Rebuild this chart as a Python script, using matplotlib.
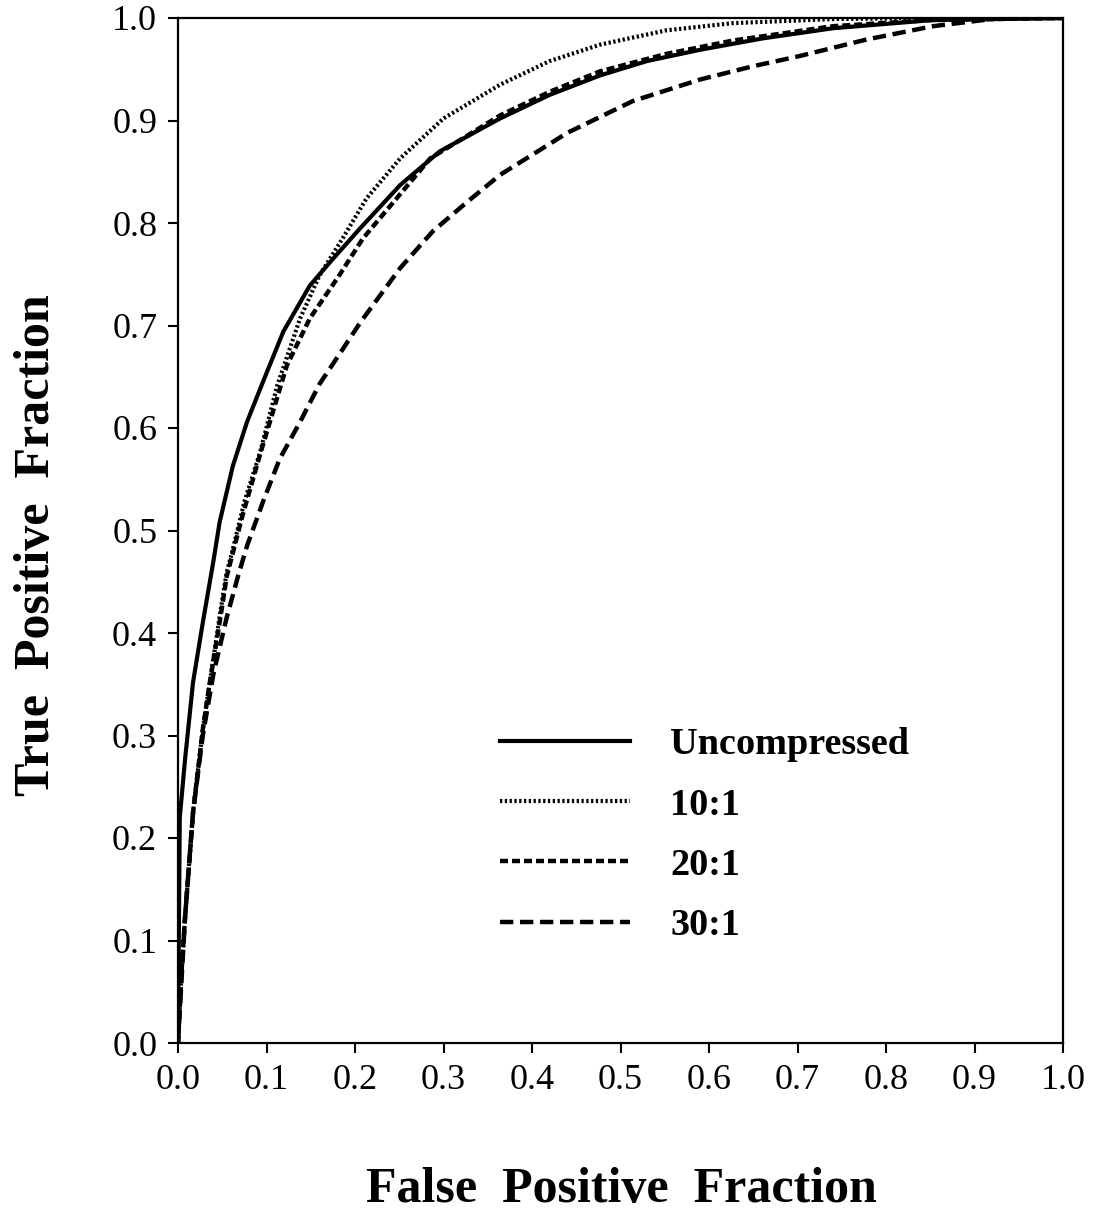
import matplotlib
matplotlib.use("Agg")
import matplotlib.pyplot as plt

# ---- data ----
unc_x = [0.0, 0.002, 0.008, 0.017, 0.028, 0.040, 0.047, 0.062, 0.078, 0.096, 0.119, 0.149, 0.172,
         0.206, 0.251, 0.296, 0.364, 0.420, 0.477, 0.530, 0.590, 0.660, 0.740, 0.853, 1.0]
unc_y = [0.0, 0.220, 0.277, 0.352, 0.410, 0.470, 0.508, 0.563, 0.606, 0.645, 0.694, 0.739, 0.762,
         0.795, 0.837, 0.870, 0.902, 0.925, 0.944, 0.958, 0.969, 0.980, 0.990, 0.998, 1.0]

r10_x = [0.0, 0.004, 0.008, 0.017, 0.028, 0.036, 0.047, 0.055, 0.062, 0.075, 0.093, 0.112, 0.138,
         0.160, 0.186, 0.213, 0.251, 0.300, 0.364, 0.420, 0.477, 0.552, 0.627, 0.740, 0.850, 1.0]
r10_y = [0.0, 0.070, 0.123, 0.225, 0.306, 0.352, 0.416, 0.459, 0.482, 0.528, 0.577, 0.641, 0.707,
         0.749, 0.785, 0.824, 0.863, 0.902, 0.935, 0.958, 0.974, 0.988, 0.995, 0.999, 1.0, 1.0]

r20_x = [0.0, 0.004, 0.008, 0.017, 0.028, 0.036, 0.047, 0.055, 0.073, 0.093, 0.123, 0.149,
         0.180, 0.209, 0.247, 0.285, 0.364, 0.420, 0.477, 0.552, 0.627, 0.740, 0.850, 1.0]
r20_y = [0.0, 0.070, 0.123, 0.225, 0.306, 0.352, 0.410, 0.455, 0.515, 0.575, 0.661, 0.707,
         0.746, 0.785, 0.824, 0.863, 0.905, 0.928, 0.948, 0.965, 0.978, 0.992, 0.998, 1.0]

r30_x = [0.0, 0.008, 0.017, 0.028, 0.040, 0.055, 0.068, 0.078, 0.096, 0.115, 0.138, 0.160, 0.187,
         0.206, 0.251, 0.288, 0.326, 0.364, 0.440, 0.514, 0.590, 0.650, 0.703, 0.778, 0.853, 0.929, 1.0]
r30_y = [0.0, 0.123, 0.225, 0.300, 0.360, 0.415, 0.456, 0.485, 0.528, 0.570, 0.606, 0.643, 0.678,
         0.703, 0.756, 0.792, 0.820, 0.847, 0.888, 0.919, 0.940, 0.953, 0.963, 0.979, 0.992, 1.0, 1.0]

labels = ["Uncompressed", "10:1", "20:1", "30:1"]
ticks = [0.0, 0.1, 0.2, 0.3, 0.4, 0.5, 0.6, 0.7, 0.8, 0.9, 1.0]
tick_labels = ["0.0", "0.1", "0.2", "0.3", "0.4", "0.5", "0.6", "0.7", "0.8", "0.9", "1.0"]

plt.rcParams['font.family'] = ['Liberation Serif', 'DejaVu Serif']

fig = plt.figure(figsize=(10.93, 12.13), dpi=100)
ax = fig.add_axes([178/1093, 1-1043/1213, (1063-178)/1093, (1043-18)/1213])

ax.plot(unc_x, unc_y, color='black', lw=3.0, linestyle='-', label=labels[0])
ax.plot(r10_x, r10_y, color='black', lw=3.0, linestyle=(0, (0.55, 0.6)), label=labels[1])
ax.plot(r20_x, r20_y, color='black', lw=3.2, linestyle=(0, (1.8, 0.9)), label=labels[2])
ax.plot(r30_x, r30_y, color='black', lw=3.2, linestyle=(0, (3.0, 1.5)), label=labels[3])

ax.set_xlim(0, 1)
ax.set_ylim(0, 1)
ax.set_xticks(ticks)
ax.set_xticklabels(tick_labels)
ax.set_yticks(ticks)
ax.set_yticklabels(tick_labels)
ax.tick_params(direction='out', length=7, width=1.5, labelsize=26, pad=8, colors='black')
for s in ax.spines.values():
    s.set_linewidth(1.6)
    s.set_color('black')

fig.text(621/1093, 1-1190/1213, "False  Positive  Fraction", ha='center', va='center',
         fontsize=36, fontweight='bold')
fig.text(37/1093, 1-545/1213, "True  Positive  Fraction", ha='center', va='center',
         fontsize=36, fontweight='bold', rotation=90)

leg = ax.legend(loc='upper left', bbox_to_anchor=(0.364, 0.308), frameon=False,
                borderpad=0, borderaxespad=0, handlelength=3.4, handletextpad=1.05,
                labelspacing=0.66, prop={'size': 27.5, 'weight': 'bold'})

fig.savefig("out.png", dpi=100)
